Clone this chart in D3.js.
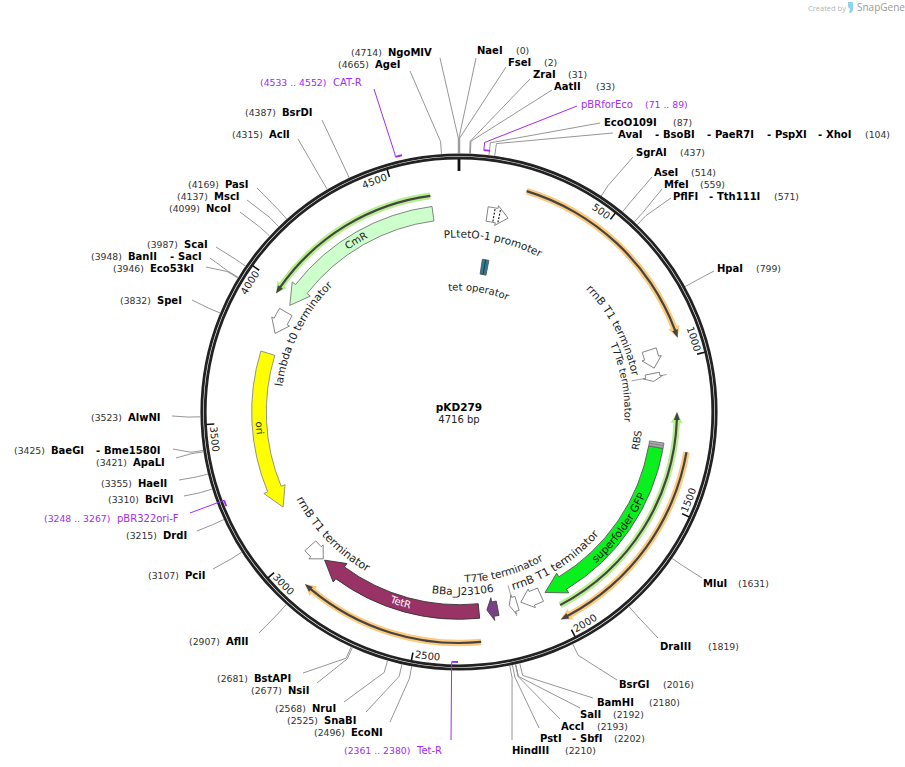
<!DOCTYPE html>
<html><head><meta charset="utf-8">
<script src="https://cdn.jsdelivr.net/npm/d3@7"></script>
<style>html,body{margin:0;padding:0;background:#fff}svg{display:block}text{font-family:"DejaVu Sans",sans-serif}</style>
</head><body><svg id="map" width="905" height="767"></svg>
<script>
const plasmidName = "pKD279";
const plasmidLength = 4716;
const tickValues = [0,500,1000,1500,2000,2500,3000,3500,4000,4500];

// Restriction sites
const siteNames = ["NaeI","FseI","ZraI","AatII","EcoO109I","AvaI - BsoBI - PaeR7I - PspXI - XhoI","SgrAI","AseI","MfeI","PflFI - Tth111I","HpaI","MluI","DraIII","BsrGI","BamHI","SalI","AccI","PstI - SbfI","HindIII","EcoNI","SnaBI","NruI","NsiI","BstAPI","AflII","PciI","DrdI","BciVI","HaeII","ApaLI","BaeGI - Bme1580I","AlwNI","SpeI","Eco53kI","BanII - SacI","ScaI","NcoI","MscI","PasI","AclI","BsrDI","AgeI","NgoMIV"];
const sitePositions = [0,2,31,33,87,104,437,514,559,571,799,1631,1819,2016,2180,2192,2193,2202,2210,2496,2525,2568,2677,2681,2907,3107,3215,3310,3355,3421,3425,3523,3832,3946,3948,3987,4099,4137,4169,4315,4387,4665,4714];

// Features: start is the tail of the arrow, end is its head
const arrowNames  = ["CmR","ori","TetR","superfolder GFP","BBa_J23106","PLtetO-1 promoter","lambda t0 terminator","rrnB T1 terminator","T7Te terminator","T7Te terminator","rrnB T1 terminator","rrnB T1 terminator"];
const arrowStarts = [4618,3761,2283,1312,2212,106,3930,943,1032,2137,2043,2987];
const arrowEnds   = [3959,3165,2911,2024,2253,186,3840,1013,1062,2167,2122,2918];
const boxNames = ["RBS","tet operator"];
const boxStarts = [1292,114];
const boxEnds = [1311,146];
const operatorSites = [132,152];

const orangeStarts = [223,1310,2286];
const orangeEnds   = [933,2016,2906];
const greenStarts  = [1996,4617];
const greenEnds    = [1179,3968];

const primerNames  = ["pBRforEco","Tet-R","pBR322ori-F","CAT-R"];
const primerStarts = [71,2361,3248,4533];
const primerEnds   = [89,2380,3267,4552];

// ---------- layout (separate from the values) ----------
const cx=459, cy=412;
const siteLayout = [
 {e:[476,58],n:[477],t:50,c:516},{e:[506,67],n:[508],t:62,c:544},{e:[530,79],n:[533],t:74,c:568},{e:[552,90],n:[554],t:86,c:596},
 {e:[600,123],n:[604],t:122,c:673},{e:[613,133],n:[618,663,715,775,826],t:134,c:865},
 {e:[633,157],n:[636],t:152,c:680},{e:[652,177],n:[654],t:172,c:691},{e:[662,189],n:[664],t:184,c:700},{e:[671,198],n:[673,717],t:196,c:774},
 {e:[714,271],n:[717],t:268,c:756},{e:[702,578],n:[703],t:583,c:738},{e:[658,638],n:[660],t:646,c:708},{e:[617,680],n:[619],t:684,c:663},
 {e:[593,698],n:[597],t:702,c:649},{e:[580,708],n:[580],t:714,c:613},{e:[560,719],n:[561],t:726,c:597},{e:[539,728],n:[540,580],t:738,c:614},{e:[512,740],n:[512],t:750,c:565},
 {e:[390,722],n:[351],t:732,c:314},{e:[366,712],n:[324],t:720,c:287},{e:[344,702],n:[312],t:708,c:275},{e:[317,683],n:[288],t:690,c:251},{e:[303,673],n:[254],t:678,c:217},
 {e:[259,633],n:[226],t:641,c:189},{e:[213,569],n:[185],t:575,c:148},{e:[197,531],n:[163],t:535,c:126},{e:[184,496],n:[145],t:499,c:108},{e:[179,480],n:[138],t:483,c:101},
 {e:[176,458],n:[133],t:462,c:96},{e:[173,449],n:[51,104],t:450,c:14},{e:[172,416],n:[128],t:417,c:91},{e:[192,300],n:[157],t:300,c:120},{e:[206,267],n:[150],t:268,c:113},
 {e:[210,258],n:[128,178],t:256,c:91},{e:[216,247],n:[184],t:244,c:147},{e:[240,212],n:[206],t:208,c:169},{e:[247,200],n:[214],t:196,c:177},{e:[257,188],n:[225],t:184,c:188},
 {e:[298,139],n:[269],t:134,c:232},{e:[322,120],n:[282],t:112,c:245},{e:[410,71],n:[375],t:64,c:338},{e:[440,58],n:[388],t:52,c:351}
];
const tallElbow = new Set(["NaeI","FseI","NgoMIV"]);
const primerLayout = [
 {r:263,elbow:270.7,lead:[577,106],name:581,range:645,t:104,from:0},
 {r:250,elbow:0,lead:[451,740],name:417,range:344,t:750,from:1},
 {r:251,elbow:0,lead:[190,513],name:117,range:44,t:518,from:1},
 {r:263,elbow:266.6,lead:[374,89],name:333,range:260,t:82,from:0}
];
// name, curve angle, baseline radius, direction (1 clockwise, -1 counter-clockwise), colour, drawn length in px (0 = natural)
const featureLabels = [
 ["CmR",329,196.5,1,"#222",0],["lambda t0 terminator",296.6,178.5,1,"#222",115],["ori",265.4,203.5,-1,"#222",0],
 ["rrnB T1 terminator",225.9,184.5,-1,"#222",103],["TetR",197,202.5,-1,"#fff",0],["BBa_J23106",178.8,183,-1,"#222",63],
 ["T7Te terminator",164.2,170.5,-1,"#222",83],["rrnB T1 terminator",147.1,186,-1,"#222",104],["superfolder GFP",125.9,204,-1,"#111",85],
 ["RBS",99,183.5,-1,"#222",0],["T7Te terminator",79.7,165.5,1,"#222",0],["rrnB T1 terminator",62.1,176.5,1,"#222",100],
 ["PLtetO-1 promoter",11.3,174.5,1,"#222",99],["tet operator",9.2,121.5,1,"#222",0]
];
const arrowStyles = [
 {fill:"#ccffcc",stroke:"#777"},{fill:"#ffff00",stroke:"#888"},{fill:"#993366",stroke:"#333"},{fill:"#0af01e",stroke:"#555"},
 {fill:"#7b3f88",stroke:"#444"},{fill:"#fff",stroke:"#777"},{fill:"#fff",stroke:"#777"},{fill:"#fff",stroke:"#777"},
 {fill:"#fff",stroke:"#777"},{fill:"#fff",stroke:"#777"},{fill:"#fff",stroke:"#777"},{fill:"#fff",stroke:"#777"}
];
const PURPLE="#a22cf2";

// ---------- helpers ----------
const svg=d3.select("#map");
const angle=d3.scaleLinear().domain([0,plasmidLength]).range([0,360]);
const rad=d=>(d-90)*Math.PI/180;
const pt=(r,d)=>[cx+r*Math.cos(rad(d)),cy+r*Math.sin(rad(d))];

function arcD(r,a0,a1){const p=d3.path();const s=pt(r,a0);p.moveTo(s[0],s[1]);p.arc(cx,cy,r,rad(a0),rad(a1),a1<a0);return p.toString();}
function arrowD(r,a0,a2,h,hh,maxHead){
  const dir=a2>a0?1:-1, lenPx=Math.abs(a2-a0)*Math.PI/180*r, headPx=Math.min(maxHead,lenPx*0.55);
  const a1=a2-dir*headPx/r*180/Math.PI;
  const p=d3.path(); const s=pt(r+h,a0); p.moveTo(s[0],s[1]);
  p.arc(cx,cy,r+h,rad(a0),rad(a1),dir<0);
  [pt(r+hh,a1),pt(r,a2),pt(r-hh,a1),pt(r-h,a1)].forEach(q=>p.lineTo(q[0],q[1]));
  p.arc(cx,cy,r-h,rad(a1),rad(a0),dir>0); p.closePath(); return p.toString();
}
function boxD(r,a0,a1,h){const p=d3.path();const s=pt(r+h,a0);p.moveTo(s[0],s[1]);p.arc(cx,cy,r+h,rad(a0),rad(a1),false);const q=pt(r-h,a1);p.lineTo(q[0],q[1]);p.arc(cx,cy,r-h,rad(a1),rad(a0),true);p.closePath();return p.toString();}
let pid=0; const defs=svg.append("defs");
function curved(text,at,r,dir,anchor,opts){
  const id="tp"+(pid++);
  const d=dir>0?arcD(r,at-90,at+90):arcD(r,at+90,at-90);
  defs.append("path").attr("id",id).attr("d",d);
  const base=opts.size||10;
  const t=svg.append("text").attr("font-size",base).attr("fill",opts.fill||"#222");
  t.append("textPath").attr("href","#"+id).attr("startOffset","50%").attr("text-anchor",anchor).text(text);
  if(opts.len){
    const natural=t.node().getComputedTextLength();
    t.attr("font-size",(base*opts.len/natural).toFixed(2));
  }
}

// ---------- ring ----------
[[257.2,2.8],[253.8,2.8]].forEach(([r,w])=>svg.append("circle").attr("cx",cx).attr("cy",cy).attr("r",r).attr("fill","none").attr("stroke","#222").attr("stroke-width",w));

// ---------- ticks ----------
tickValues.forEach(v=>{
  const a=angle(v), big=v===0, p0=pt(253,a), p1=pt(big?241:245,a);
  svg.append("line").attr("x1",p0[0]).attr("y1",p0[1]).attr("x2",p1[0]).attr("y2",p1[1]).attr("stroke","#111").attr("stroke-width",big?2.8:1.6);
  if(big) return;
  if(a<90||a>270) curved(String(v),a-0.6,242.5,1,"end",{fill:"#222"});
  else curved(String(v),a-0.6,249.5,-1,"start",{fill:"#222"});
});

// ---------- highlighted arcs ----------
function highlight(s,e,r,col){
  svg.append("path").attr("d",arrowD(r,angle(s),angle(e),3.3,6,11)).attr("fill",col);
  svg.append("path").attr("d",arrowD(r,angle(s),angle(e),1.1,3,8)).attr("fill","#444");
}
orangeStarts.forEach((s,i)=>highlight(s,orangeEnds[i],231,"#fdc97c"));
greenStarts.forEach((s,i)=>highlight(s,greenEnds[i],218,"#b7ef8e"));

// ---------- feature arrows ----------
arrowNames.forEach((n,i)=>{
  svg.append("path").datum(n).attr("d",arrowD(i===8?197:200,angle(arrowStarts[i]),angle(arrowEnds[i]),7.3,i<5?11.5:10,20))
    .attr("fill",arrowStyles[i].fill).attr("stroke",arrowStyles[i].stroke).attr("stroke-width",0.9);
});
operatorSites.forEach(v=>{const a=pt(193.5,angle(v)),b=pt(206.5,angle(v));
  svg.append("line").attr("x1",a[0]).attr("y1",a[1]).attr("x2",b[0]).attr("y2",b[1]).attr("stroke","#111").attr("stroke-width",1.1).attr("stroke-dasharray","2 1.5");});
// RBS
svg.append("path").attr("d",boxD(200,angle(boxStarts[0]),angle(boxEnds[0]),7.3)).attr("fill","#aaa").attr("stroke","#666").attr("stroke-width",0.8);
{const m=angle((boxStarts[0]+boxEnds[0])/2),a=pt(192.7,m),b=pt(207.3,m);
 svg.append("line").attr("x1",a[0]).attr("y1",a[1]).attr("x2",b[0]).attr("y2",b[1]).attr("stroke","#777").attr("stroke-width",0.8);}
// tet operator
svg.append("path").attr("d",boxD(147,angle(boxStarts[1]),angle(boxEnds[1]),7.5)).attr("fill","#2c7c96").attr("stroke","#555").attr("stroke-width",0.9);
{const m=angle((boxStarts[1]+boxEnds[1])/2),a=pt(139.5,m),b=pt(154.5,m);
 svg.append("line").attr("x1",a[0]).attr("y1",a[1]).attr("x2",b[0]).attr("y2",b[1]).attr("stroke","#1c3a46").attr("stroke-width",1);}

// short connectors of the two small T7Te arrows
[[angle(1045),175.5,187],[angle(1045),206.5,211],[angle(2151),180,190],[angle(2151),208,212]].forEach(([a,r0,r1])=>{
  const p=pt(r0,a),q=pt(r1,a);svg.append("line").attr("x1",p[0]).attr("y1",p[1]).attr("x2",q[0]).attr("y2",q[1]).attr("stroke","#888").attr("stroke-width",0.8);});

// ---------- feature labels ----------
featureLabels.forEach(([t,a,r,dir,col,len])=>curved(t,a,r,dir,"middle",{fill:col,size:10,len}));

// ---------- restriction sites ----------
const lineGen=d3.line();
siteNames.forEach((n,i)=>{
  const a=angle(sitePositions[i]), L=siteLayout[i], elbow=tallElbow.has(n)?274:271;
  svg.append("path").attr("d",lineGen([pt(258.5,a),pt(elbow,a),L.e])).attr("fill","none").attr("stroke","#8a8a8a").attr("stroke-width",0.9);
  n.split(" - ").forEach((part,j)=>{
    svg.append("text").attr("x",L.n[j]).attr("y",L.t+3.5).attr("font-size",10).attr("font-weight","bold").attr("fill","#000").text(part);
    if(j>0) svg.append("text").attr("x",L.n[j]-8).attr("y",L.t+3.5).attr("font-size",10).attr("font-weight","bold").attr("fill","#000").text("-");
  });
  svg.append("text").attr("x",L.c).attr("y",L.t+4).attr("font-size",9.3).attr("fill","#333").text("("+sitePositions[i]+")");
});

// ---------- primers ----------
primerNames.forEach((n,i)=>{
  const L=primerLayout[i], a0=angle(primerStarts[i]), a1=angle(primerEnds[i]);
  svg.append("path").attr("d",arcD(L.r,a0,a1)).attr("fill","none").attr("stroke",PURPLE).attr("stroke-width",1.8);
  const aL=L.from?a1:a0;
  svg.append("path").attr("d",lineGen(L.elbow?[pt(L.r,aL),pt(L.elbow,aL),L.lead]:[pt(L.r,aL),L.lead])).attr("fill","none").attr("stroke",PURPLE).attr("stroke-width",1);
  svg.append("text").attr("x",L.name).attr("y",L.t+3.5).attr("font-size",10).attr("fill",PURPLE).text(n);
  svg.append("text").attr("x",L.range).attr("y",L.t+4).attr("font-size",9.3).attr("fill",PURPLE).text("("+primerStarts[i]+" .. "+primerEnds[i]+")");
});

// ---------- centre ----------
svg.append("text").attr("x",cx).attr("y",411).attr("text-anchor","middle").attr("font-size",10.5).attr("font-weight","bold").attr("fill","#000").text(plasmidName);
svg.append("text").attr("x",cx).attr("y",423).attr("text-anchor","middle").attr("font-size",10).attr("fill","#222").text(plasmidLength+" bp");

// ---------- watermark ----------
svg.append("text").attr("x",808).attr("y",10.5).attr("font-size",7.5).attr("fill","#b4b4b4").style("font-family","'Open Sans'").text("Created by");
svg.append("path").attr("d","M848,2 L853,2 L853,9 Q853,13 849,13 L850,9 L848,7 Z").attr("fill","#8fd3f0");
svg.append("text").attr("x",857).attr("y",11).attr("font-size",10).attr("fill","#9a9a9a").style("font-family","'Open Sans'").text("SnapGene");
</script></body></html>
